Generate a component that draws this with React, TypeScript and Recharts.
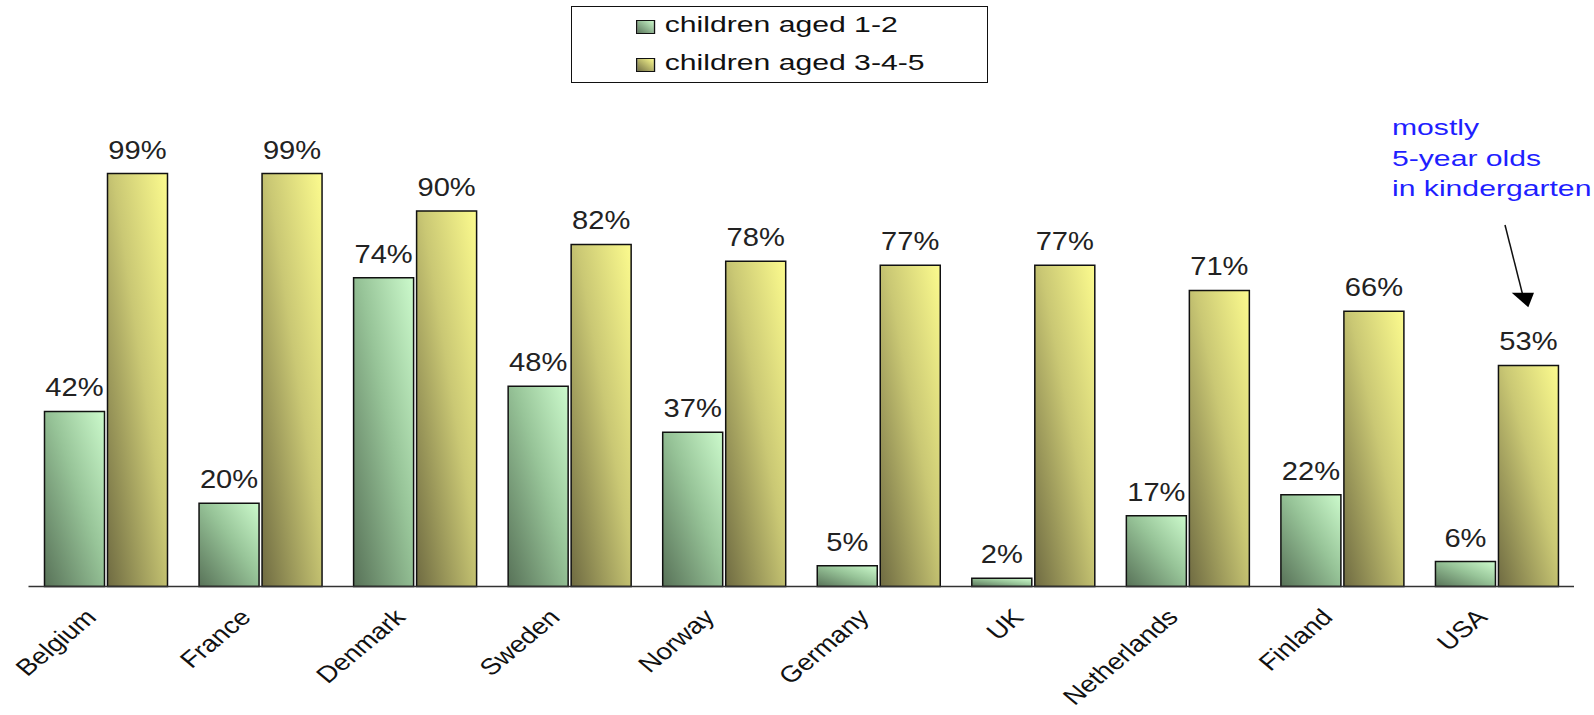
import { BarChart, Bar, XAxis, YAxis, Legend, LabelList } from "recharts";

const countries = ["Belgium", "France", "Denmark", "Sweden", "Norway", "Germany", "UK", "Netherlands", "Finland", "USA"];
const aged12 = [42, 20, 74, 48, 37, 5, 2, 17, 22, 6];
const aged345 = [99, 99, 90, 82, 78, 77, 77, 71, 66, 53];
const seriesNames = ["children aged 1-2", "children aged 3-4-5"];
const noteLines = ["mostly", "5-year olds", "in kindergarten"];

const FONT = "'Liberation Sans', Arial, sans-serif";

const data = countries.map((c, i) => ({ country: c, a: aged12[i], b: aged345[i] }));

const legendFill: Record<string, string> = {
  a: "linear-gradient(45deg, #5b775c, #c9f7c9)",
  b: "linear-gradient(45deg, #737046, #fbfa8e)",
};

function ValueLabel(props: any) {
  const vb = props.viewBox ?? {};
  const x = props.x ?? vb.x;
  const y = props.y ?? vb.y;
  const w = props.width ?? vb.width;
  const cx = x + w / 2;
  return (
    <text
      transform={`translate(${cx},${y - 15}) scale(1.12,1)`}
      textAnchor="middle"
      fontFamily={FONT}
      fontSize={26}
      fill="#222"
    >
      {props.value}%
    </text>
  );
}

// rotated country names, slightly stretched like the original export
function CountryTick(props: any) {
  const { x, y, payload } = props;
  return (
    <text
      transform={`translate(${x - 8},${y + 32}) scale(1.2,1) rotate(-45)`}
      textAnchor="end"
      fontFamily={FONT}
      fontSize={23}
      fill="#111"
    >
      {payload.value}
    </text>
  );
}

function LegendBox(props: any) {
  const items = props.payload ?? [];
  return (
    <div
      style={{
        boxSizing: "border-box",
        width: 417,
        height: 77,
        border: "1.5px solid #111",
        background: "#fff",
        fontFamily: FONT,
        fontSize: 22,
        color: "#111",
        position: "relative",
      }}
    >
      <div style={{ position: "absolute", left: 64, top: -0.8, transform: "scaleX(1.37)", transformOrigin: "left top", whiteSpace: "nowrap" }}>
        {items.map((it: any) => (
          <div key={it.dataKey} style={{ height: 38, lineHeight: "38px", display: "flex", alignItems: "center" }}>
            <span
              style={{
                display: "inline-block",
                width: 12,
                height: 12,
                border: "1px solid #111",
                background: legendFill[it.dataKey],
                marginRight: 7,
                marginTop: 3,
              }}
            />
            <span>{it.value}</span>
          </div>
        ))}
      </div>
    </div>
  );
}

export default function App() {
  return (
    <div style={{ position: "absolute", left: 0, top: 0, width: 1594, height: 715, background: "#fff" }}>
      <BarChart
        width={1594}
        height={715}
        data={data}
        margin={{ top: 169.4, right: 20, bottom: 88.4, left: 28.5 }}
        barCategoryGap={16}
        barGap={3}
      >
        <defs>
          <linearGradient id="gGreen" x1="0" y1="1" x2="1" y2="0">
            <stop offset="0%" stopColor="#587258" />
            <stop offset="55%" stopColor="#97c498" />
            <stop offset="100%" stopColor="#ccfacc" />
          </linearGradient>
          <linearGradient id="gYellow" x1="0" y1="1" x2="1" y2="0">
            <stop offset="0%" stopColor="#6f6b42" />
            <stop offset="55%" stopColor="#cac874" />
            <stop offset="100%" stopColor="#fcfb8e" />
          </linearGradient>
        </defs>
        <XAxis
          dataKey="country"
          height={40}
          tickLine={false}
          tickSize={0}
          tickMargin={0}
          axisLine={{ stroke: "#333", strokeWidth: 1.5 }}
          tick={<CountryTick />}
          interval={0}
        />
        <YAxis hide domain={[0, 100]} />
        <Legend
          layout="horizontal"
          verticalAlign="middle"
          align="center"
          content={<LegendBox />}
          wrapperStyle={{ left: 571, top: 6, width: 417, height: 77 }}
        />
        <Bar dataKey="a" name={seriesNames[0]} fill="url(#gGreen)" stroke="#111" strokeWidth={1.5} isAnimationActive={false}>
          <LabelList dataKey="a" content={<ValueLabel />} />
        </Bar>
        <Bar dataKey="b" name={seriesNames[1]} fill="url(#gYellow)" stroke="#111" strokeWidth={1.5} isAnimationActive={false}>
          <LabelList dataKey="b" content={<ValueLabel />} />
        </Bar>
      </BarChart>
      <svg
        width={1594}
        height={715}
        style={{ position: "absolute", left: 0, top: 0, pointerEvents: "none" }}
      >
        {noteLines.map((t, i) => (
          <text
            key={t}
            transform={`translate(1392,${135 + i * 30.5}) scale(1.34,1)`}
            fontFamily={FONT}
            fontSize={22.5}
            fill="#1f1fff"
          >
            {t}
          </text>
        ))}
        <line x1={1505} y1={225} x2={1523} y2={296} stroke="#111" strokeWidth={1.5} />
        <polygon points="1511.7,292.7 1534,292.7 1528.3,307.3" fill="#000" />
      </svg>
    </div>
  );
}
